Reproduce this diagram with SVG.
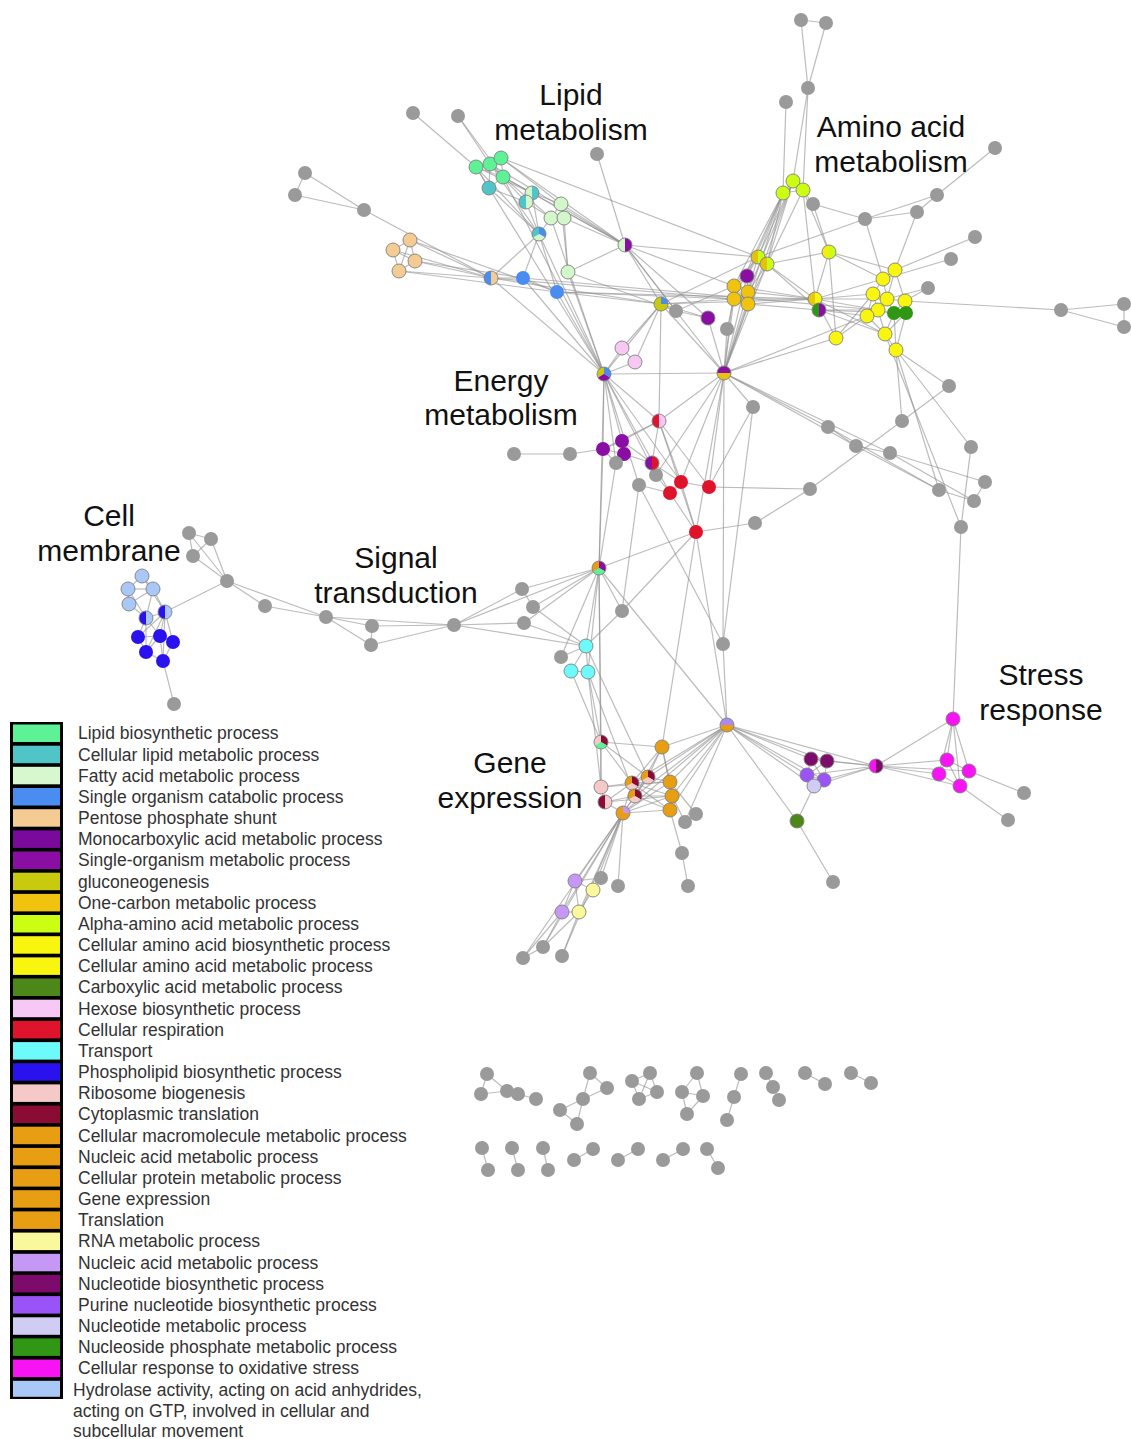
<svg xmlns="http://www.w3.org/2000/svg" width="1131" height="1439" viewBox="0 0 1131 1439">
<defs>
<style>
.e line{stroke:#8f8f8f;stroke-width:1.2;stroke-opacity:.6}
.g{fill:#9a9a9a}
.k{stroke:#7f7f7f;stroke-width:.9}
.lab{font-family:"Liberation Sans",Arial,sans-serif;font-size:30px;fill:#111;text-anchor:middle}
.leg{font-family:"Liberation Sans",Arial,sans-serif;font-size:17.5px;fill:#333}
</style>
<path id="hl" d="M0,-7A7,7 0 0 0 0,7Z"/>
<path id="hr" d="M0,-7A7,7 0 0 1 0,7Z"/>
<path id="ht" d="M-7,0A7,7 0 0 1 7,0Z"/>
<path id="hb" d="M-7,0A7,7 0 0 0 7,0Z"/>
<path id="s1" d="M0,0L0,-7A7,7 0 0 1 6.06,3.5Z"/>
<path id="s2" d="M0,0L6.06,3.5A7,7 0 0 1 -6.06,3.5Z"/>
<path id="s3" d="M0,0L-6.06,3.5A7,7 0 0 1 0,-7Z"/>
<path id="q1" d="M0,0L0,-7A7,7 0 0 1 7,0Z"/>
<path id="q3" d="M0,0L7,0A7,7 0 1 1 0,-7Z"/>
<circle id="ring" r="7" fill="none" stroke="#7f7f7f" stroke-width="0.9"/>
</defs>
<rect width="1131" height="1439" fill="#fff"/>

<g id="connectors" class="e">
<line x1="801" y1="20" x2="826" y2="23"/><line x1="801" y1="20" x2="808" y2="88"/><line x1="826" y1="23" x2="808" y2="88"/>
<line x1="808" y1="88" x2="793" y2="181"/><line x1="808" y1="88" x2="803" y2="190"/><line x1="786" y1="102" x2="783" y2="193"/>
<line x1="783" y1="193" x2="793" y2="181"/><line x1="793" y1="181" x2="803" y2="190"/><line x1="783" y1="193" x2="803" y2="190"/>
<line x1="803" y1="190" x2="813" y2="204"/><line x1="813" y1="204" x2="865" y2="219"/><line x1="865" y1="219" x2="917" y2="212"/>
<line x1="865" y1="219" x2="937" y2="195"/><line x1="917" y1="212" x2="937" y2="195"/><line x1="937" y1="195" x2="995" y2="148"/>
<line x1="865" y1="219" x2="883" y2="279"/><line x1="917" y1="212" x2="895" y2="270"/><line x1="975" y1="237" x2="895" y2="270"/>
<line x1="951" y1="259" x2="883" y2="279"/><line x1="928" y1="288" x2="905" y2="301"/><line x1="928" y1="288" x2="887" y2="299"/>
<line x1="905" y1="301" x2="1061" y2="310"/><line x1="1061" y1="310" x2="1124" y2="304"/><line x1="1061" y1="310" x2="1124" y2="327"/><line x1="1124" y1="304" x2="1124" y2="327"/>
<line x1="865" y1="219" x2="758" y2="257"/><line x1="803" y1="190" x2="829" y2="252"/><line x1="813" y1="204" x2="829" y2="252"/>
<line x1="783" y1="193" x2="758" y2="257"/><line x1="783" y1="193" x2="767" y2="264"/><line x1="793" y1="181" x2="767" y2="264"/>
<line x1="783" y1="193" x2="734" y2="286"/><line x1="783" y1="193" x2="734" y2="299"/><line x1="793" y1="181" x2="748" y2="292"/>
<line x1="803" y1="190" x2="748" y2="304"/><line x1="783" y1="193" x2="747" y2="276"/><line x1="783" y1="193" x2="724" y2="373"/>
<line x1="793" y1="181" x2="724" y2="373"/><line x1="803" y1="190" x2="815" y2="299"/><line x1="793" y1="181" x2="758" y2="257"/>
<line x1="758" y1="257" x2="767" y2="264"/><line x1="758" y1="257" x2="734" y2="286"/><line x1="767" y1="264" x2="748" y2="292"/>
<line x1="758" y1="257" x2="747" y2="276"/><line x1="767" y1="264" x2="829" y2="252"/><line x1="767" y1="264" x2="815" y2="299"/>
<line x1="767" y1="264" x2="819" y2="310"/><line x1="829" y1="252" x2="815" y2="299"/><line x1="829" y1="252" x2="836" y2="338"/>
<line x1="829" y1="252" x2="883" y2="279"/><line x1="829" y1="252" x2="895" y2="270"/>
<line x1="734" y1="286" x2="748" y2="292"/><line x1="734" y1="286" x2="734" y2="299"/><line x1="748" y1="292" x2="748" y2="304"/>
<line x1="734" y1="299" x2="748" y2="304"/><line x1="734" y1="286" x2="748" y2="304"/><line x1="748" y1="292" x2="734" y2="299"/>
<line x1="747" y1="276" x2="734" y2="286"/><line x1="747" y1="276" x2="748" y2="292"/>
<line x1="748" y1="292" x2="815" y2="299"/><line x1="748" y1="304" x2="815" y2="299"/><line x1="748" y1="304" x2="819" y2="310"/>
<line x1="734" y1="299" x2="815" y2="299"/><line x1="734" y1="286" x2="815" y2="299"/>
<line x1="734" y1="299" x2="724" y2="373"/><line x1="748" y1="304" x2="724" y2="373"/><line x1="747" y1="276" x2="724" y2="373"/>
<line x1="758" y1="257" x2="724" y2="373"/><line x1="767" y1="264" x2="724" y2="373"/><line x1="734" y1="286" x2="724" y2="373"/>
<line x1="815" y1="299" x2="819" y2="310"/><line x1="815" y1="299" x2="873" y2="294"/><line x1="815" y1="299" x2="883" y2="279"/>
<line x1="815" y1="299" x2="878" y2="310"/><line x1="819" y1="310" x2="867" y2="316"/><line x1="819" y1="310" x2="878" y2="310"/>
<line x1="815" y1="299" x2="887" y2="299"/><line x1="819" y1="310" x2="894" y2="313"/><line x1="819" y1="310" x2="885" y2="334"/>
<line x1="895" y1="270" x2="883" y2="279"/><line x1="883" y1="279" x2="873" y2="294"/><line x1="883" y1="279" x2="887" y2="299"/>
<line x1="873" y1="294" x2="887" y2="299"/><line x1="895" y1="270" x2="887" y2="299"/><line x1="887" y1="299" x2="905" y2="301"/>
<line x1="873" y1="294" x2="878" y2="310"/><line x1="878" y1="310" x2="867" y2="316"/><line x1="878" y1="310" x2="887" y2="299"/>
<line x1="887" y1="299" x2="894" y2="313"/><line x1="894" y1="313" x2="906" y2="313"/><line x1="905" y1="301" x2="906" y2="313"/>
<line x1="905" y1="301" x2="894" y2="313"/><line x1="878" y1="310" x2="894" y2="313"/><line x1="867" y1="316" x2="885" y2="334"/>
<line x1="878" y1="310" x2="885" y2="334"/><line x1="894" y1="313" x2="885" y2="334"/><line x1="885" y1="334" x2="896" y2="350"/>
<line x1="894" y1="313" x2="896" y2="350"/><line x1="906" y1="313" x2="896" y2="350"/><line x1="906" y1="313" x2="885" y2="334"/>
<line x1="873" y1="294" x2="867" y2="316"/><line x1="895" y1="270" x2="905" y2="301"/>
<line x1="836" y1="338" x2="867" y2="316"/><line x1="836" y1="338" x2="873" y2="294"/><line x1="836" y1="338" x2="815" y2="299"/>
<line x1="836" y1="338" x2="724" y2="373"/><line x1="867" y1="316" x2="724" y2="373"/><line x1="885" y1="334" x2="815" y2="299"/>
<line x1="661" y1="304" x2="676" y2="311"/><line x1="661" y1="304" x2="734" y2="299"/><line x1="661" y1="304" x2="758" y2="257"/>
<line x1="661" y1="304" x2="815" y2="299"/><line x1="661" y1="304" x2="724" y2="373"/><line x1="661" y1="304" x2="659" y2="421"/>
<line x1="661" y1="304" x2="604" y2="374"/><line x1="661" y1="304" x2="622" y2="348"/><line x1="661" y1="304" x2="635" y2="362"/>
<line x1="661" y1="304" x2="708" y2="318"/><line x1="708" y1="318" x2="724" y2="373"/><line x1="676" y1="311" x2="708" y2="318"/>
<line x1="727" y1="329" x2="724" y2="373"/><line x1="727" y1="329" x2="734" y2="299"/><line x1="676" y1="311" x2="734" y2="286"/>
<line x1="724" y1="373" x2="753" y2="407"/><line x1="724" y1="373" x2="604" y2="374"/><line x1="724" y1="373" x2="659" y2="421"/>
<line x1="724" y1="373" x2="709" y2="487"/><line x1="724" y1="373" x2="696" y2="532"/><line x1="724" y1="373" x2="656" y2="475"/>
<line x1="724" y1="373" x2="828" y2="427"/><line x1="724" y1="373" x2="856" y2="446"/><line x1="724" y1="373" x2="890" y2="453"/>
<line x1="724" y1="373" x2="723" y2="644"/><line x1="724" y1="373" x2="681" y2="482"/>
<line x1="413" y1="113" x2="476" y2="167"/><line x1="458" y1="116" x2="490" y2="164"/><line x1="458" y1="116" x2="503" y2="177"/>
<line x1="597" y1="154" x2="625" y2="245"/><line x1="305" y1="173" x2="295" y2="195"/><line x1="305" y1="173" x2="364" y2="210"/>
<line x1="295" y1="195" x2="364" y2="210"/><line x1="364" y1="210" x2="491" y2="278"/>
<line x1="476" y1="167" x2="490" y2="164"/><line x1="490" y1="164" x2="501" y2="158"/><line x1="476" y1="167" x2="489" y2="188"/>
<line x1="490" y1="164" x2="503" y2="177"/><line x1="501" y1="158" x2="503" y2="177"/><line x1="490" y1="164" x2="489" y2="188"/>
<line x1="476" y1="167" x2="503" y2="177"/><line x1="489" y1="188" x2="503" y2="177"/>
<line x1="476" y1="167" x2="532" y2="193"/><line x1="490" y1="164" x2="526" y2="202"/><line x1="503" y1="177" x2="532" y2="193"/>
<line x1="489" y1="188" x2="526" y2="202"/><line x1="501" y1="158" x2="561" y2="204"/><line x1="503" y1="177" x2="551" y2="218"/>
<line x1="476" y1="167" x2="539" y2="234"/><line x1="490" y1="164" x2="539" y2="234"/><line x1="489" y1="188" x2="539" y2="234"/>
<line x1="503" y1="177" x2="625" y2="245"/><line x1="501" y1="158" x2="625" y2="245"/><line x1="490" y1="164" x2="625" y2="245"/>
<line x1="501" y1="158" x2="758" y2="257"/><line x1="503" y1="177" x2="604" y2="374"/><line x1="476" y1="167" x2="604" y2="374"/>
<line x1="532" y1="193" x2="526" y2="202"/><line x1="532" y1="193" x2="561" y2="204"/><line x1="526" y1="202" x2="551" y2="218"/>
<line x1="532" y1="193" x2="625" y2="245"/><line x1="526" y1="202" x2="539" y2="234"/><line x1="532" y1="193" x2="539" y2="234"/>
<line x1="561" y1="204" x2="551" y2="218"/><line x1="561" y1="204" x2="564" y2="218"/><line x1="551" y1="218" x2="564" y2="218"/>
<line x1="564" y1="218" x2="568" y2="272"/><line x1="561" y1="204" x2="568" y2="272"/><line x1="551" y1="218" x2="539" y2="234"/>
<line x1="564" y1="218" x2="625" y2="245"/><line x1="561" y1="204" x2="625" y2="245"/><line x1="551" y1="218" x2="604" y2="374"/>
<line x1="539" y1="234" x2="491" y2="278"/><line x1="539" y1="234" x2="523" y2="278"/><line x1="539" y1="234" x2="604" y2="374"/>
<line x1="539" y1="234" x2="557" y2="292"/><line x1="568" y1="272" x2="625" y2="245"/><line x1="568" y1="272" x2="604" y2="374"/>
<line x1="568" y1="272" x2="676" y2="311"/><line x1="625" y1="245" x2="661" y2="304"/><line x1="625" y1="245" x2="724" y2="373"/>
<line x1="625" y1="245" x2="758" y2="257"/><line x1="625" y1="245" x2="734" y2="286"/><line x1="625" y1="245" x2="708" y2="318"/>
<line x1="625" y1="245" x2="676" y2="311"/>
<line x1="410" y1="240" x2="393" y2="250"/><line x1="410" y1="240" x2="415" y2="261"/><line x1="393" y1="250" x2="399" y2="271"/>
<line x1="415" y1="261" x2="399" y2="271"/><line x1="393" y1="250" x2="415" y2="261"/><line x1="410" y1="240" x2="399" y2="271"/>
<line x1="410" y1="240" x2="491" y2="278"/><line x1="393" y1="250" x2="491" y2="278"/><line x1="415" y1="261" x2="491" y2="278"/>
<line x1="399" y1="271" x2="491" y2="278"/><line x1="415" y1="261" x2="523" y2="278"/><line x1="410" y1="240" x2="557" y2="292"/>
<line x1="399" y1="271" x2="557" y2="292"/>
<line x1="491" y1="278" x2="523" y2="278"/><line x1="491" y1="278" x2="604" y2="374"/><line x1="523" y1="278" x2="557" y2="292"/>
<line x1="523" y1="278" x2="604" y2="374"/><line x1="557" y1="292" x2="661" y2="304"/><line x1="557" y1="292" x2="734" y2="299"/>
<line x1="557" y1="292" x2="815" y2="299"/><line x1="523" y1="278" x2="878" y2="310"/><line x1="491" y1="278" x2="661" y2="304"/>
<line x1="557" y1="292" x2="604" y2="374"/><line x1="491" y1="278" x2="734" y2="299"/>
<line x1="604" y1="374" x2="622" y2="348"/><line x1="604" y1="374" x2="635" y2="362"/><line x1="622" y1="348" x2="635" y2="362"/>
<line x1="604" y1="374" x2="659" y2="421"/><line x1="604" y1="374" x2="603" y2="449"/><line x1="604" y1="374" x2="616" y2="463"/>
<line x1="604" y1="374" x2="639" y2="485"/><line x1="604" y1="374" x2="681" y2="482"/><line x1="604" y1="374" x2="656" y2="475"/>
<line x1="604" y1="374" x2="599" y2="568"/><line x1="604" y1="374" x2="622" y2="441"/><line x1="604" y1="374" x2="670" y2="493"/>
<line x1="659" y1="421" x2="603" y2="449"/><line x1="659" y1="421" x2="622" y2="441"/><line x1="659" y1="421" x2="681" y2="482"/>
<line x1="659" y1="421" x2="709" y2="487"/><line x1="659" y1="421" x2="696" y2="532"/><line x1="659" y1="421" x2="652" y2="463"/>
<line x1="514" y1="454" x2="570" y2="454"/><line x1="570" y1="454" x2="603" y2="449"/><line x1="603" y1="449" x2="622" y2="441"/>
<line x1="603" y1="449" x2="624" y2="454"/><line x1="622" y1="441" x2="624" y2="454"/><line x1="622" y1="441" x2="652" y2="463"/>
<line x1="624" y1="454" x2="652" y2="463"/><line x1="603" y1="449" x2="616" y2="463"/><line x1="624" y1="454" x2="616" y2="463"/>
<line x1="652" y1="463" x2="681" y2="482"/><line x1="652" y1="463" x2="656" y2="475"/><line x1="681" y1="482" x2="670" y2="493"/>
<line x1="681" y1="482" x2="709" y2="487"/><line x1="670" y1="493" x2="696" y2="532"/><line x1="681" y1="482" x2="696" y2="532"/>
<line x1="639" y1="485" x2="670" y2="493"/><line x1="656" y1="475" x2="670" y2="493"/>
<line x1="709" y1="487" x2="810" y2="489"/><line x1="753" y1="407" x2="709" y2="487"/><line x1="810" y1="489" x2="755" y2="523"/>
<line x1="755" y1="523" x2="696" y2="532"/><line x1="810" y1="489" x2="902" y2="421"/><line x1="902" y1="421" x2="949" y2="386"/>
<line x1="949" y1="386" x2="896" y2="350"/><line x1="896" y1="350" x2="902" y2="421"/>
<line x1="828" y1="427" x2="856" y2="446"/><line x1="856" y1="446" x2="890" y2="453"/><line x1="856" y1="446" x2="939" y2="490"/>
<line x1="890" y1="453" x2="974" y2="501"/><line x1="890" y1="453" x2="985" y2="482"/><line x1="974" y1="501" x2="985" y2="482"/>
<line x1="939" y1="490" x2="974" y2="501"/><line x1="828" y1="427" x2="939" y2="490"/>
<line x1="896" y1="350" x2="971" y2="447"/><line x1="896" y1="350" x2="939" y2="490"/><line x1="971" y1="447" x2="961" y2="527"/>
<line x1="885" y1="334" x2="961" y2="527"/><line x1="961" y1="527" x2="953" y2="719"/>
<line x1="603" y1="449" x2="599" y2="568"/><line x1="616" y1="463" x2="599" y2="568"/><line x1="639" y1="485" x2="622" y2="611"/>
<line x1="639" y1="485" x2="723" y2="644"/><line x1="696" y1="532" x2="622" y2="611"/><line x1="622" y1="611" x2="586" y2="646"/>
<line x1="696" y1="532" x2="662" y2="747"/><line x1="696" y1="532" x2="727" y2="725"/><line x1="696" y1="532" x2="599" y2="568"/>
<line x1="753" y1="407" x2="723" y2="644"/>
<line x1="189" y1="533" x2="211" y2="539"/><line x1="189" y1="533" x2="193" y2="556"/><line x1="211" y1="539" x2="193" y2="556"/>
<line x1="189" y1="533" x2="227" y2="581"/><line x1="211" y1="539" x2="227" y2="581"/><line x1="193" y1="556" x2="227" y2="581"/>
<line x1="227" y1="581" x2="165" y2="612"/><line x1="227" y1="581" x2="265" y2="606"/><line x1="227" y1="581" x2="326" y2="617"/>
<line x1="265" y1="606" x2="326" y2="617"/><line x1="326" y1="617" x2="372" y2="626"/><line x1="326" y1="617" x2="371" y2="645"/>
<line x1="372" y1="626" x2="371" y2="645"/><line x1="326" y1="617" x2="454" y2="625"/><line x1="372" y1="626" x2="454" y2="625"/>
<line x1="371" y1="645" x2="454" y2="625"/>
<line x1="454" y1="625" x2="522" y2="589"/><line x1="454" y1="625" x2="524" y2="623"/><line x1="454" y1="625" x2="586" y2="646"/>
<line x1="454" y1="625" x2="599" y2="568"/><line x1="522" y1="589" x2="599" y2="568"/><line x1="533" y1="607" x2="599" y2="568"/>
<line x1="524" y1="623" x2="599" y2="568"/><line x1="522" y1="589" x2="533" y2="607"/><line x1="533" y1="607" x2="586" y2="646"/>
<line x1="524" y1="623" x2="586" y2="646"/><line x1="561" y1="657" x2="586" y2="646"/><line x1="561" y1="657" x2="599" y2="568"/>
<line x1="599" y1="568" x2="586" y2="646"/><line x1="599" y1="568" x2="588" y2="672"/><line x1="599" y1="568" x2="601" y2="742"/>
<line x1="599" y1="568" x2="727" y2="725"/><line x1="599" y1="568" x2="622" y2="611"/><line x1="599" y1="568" x2="601" y2="787"/>
<line x1="142" y1="576" x2="128" y2="589"/><line x1="142" y1="576" x2="153" y2="589"/><line x1="128" y1="589" x2="153" y2="589"/>
<line x1="128" y1="589" x2="129" y2="604"/><line x1="153" y1="589" x2="129" y2="604"/><line x1="153" y1="589" x2="165" y2="612"/>
<line x1="129" y1="604" x2="146" y2="618"/><line x1="165" y1="612" x2="146" y2="618"/><line x1="142" y1="576" x2="165" y2="612"/>
<line x1="128" y1="589" x2="146" y2="618"/><line x1="153" y1="589" x2="146" y2="618"/>
<line x1="165" y1="612" x2="138" y2="637"/><line x1="165" y1="612" x2="160" y2="636"/><line x1="165" y1="612" x2="173" y2="642"/>
<line x1="165" y1="612" x2="146" y2="652"/><line x1="165" y1="612" x2="163" y2="661"/><line x1="146" y1="618" x2="138" y2="637"/>
<line x1="146" y1="618" x2="160" y2="636"/><line x1="146" y1="618" x2="146" y2="652"/><line x1="138" y1="637" x2="160" y2="636"/>
<line x1="160" y1="636" x2="173" y2="642"/><line x1="138" y1="637" x2="146" y2="652"/><line x1="146" y1="652" x2="163" y2="661"/>
<line x1="160" y1="636" x2="163" y2="661"/><line x1="173" y1="642" x2="163" y2="661"/><line x1="160" y1="636" x2="146" y2="652"/>
<line x1="163" y1="661" x2="174" y2="704"/>
<line x1="586" y1="646" x2="571" y2="671"/><line x1="586" y1="646" x2="588" y2="672"/><line x1="571" y1="671" x2="588" y2="672"/>
<line x1="571" y1="671" x2="601" y2="742"/><line x1="588" y1="672" x2="601" y2="742"/><line x1="588" y1="672" x2="635" y2="796"/>
<line x1="586" y1="646" x2="648" y2="777"/><line x1="588" y1="672" x2="601" y2="787"/>
<line x1="601" y1="742" x2="601" y2="787"/><line x1="601" y1="742" x2="632" y2="783"/><line x1="601" y1="742" x2="648" y2="777"/>
<line x1="601" y1="742" x2="662" y2="747"/><line x1="601" y1="787" x2="605" y2="802"/><line x1="601" y1="787" x2="632" y2="783"/>
<line x1="605" y1="802" x2="632" y2="783"/><line x1="605" y1="802" x2="635" y2="796"/><line x1="605" y1="802" x2="623" y2="813"/>
<line x1="601" y1="787" x2="670" y2="782"/><line x1="605" y1="802" x2="672" y2="796"/>
<line x1="662" y1="747" x2="648" y2="777"/><line x1="662" y1="747" x2="670" y2="782"/><line x1="662" y1="747" x2="672" y2="796"/>
<line x1="662" y1="747" x2="632" y2="783"/><line x1="662" y1="747" x2="727" y2="725"/><line x1="662" y1="747" x2="635" y2="796"/>
<line x1="632" y1="783" x2="648" y2="777"/><line x1="632" y1="783" x2="635" y2="796"/><line x1="648" y1="777" x2="635" y2="796"/>
<line x1="632" y1="783" x2="670" y2="782"/><line x1="632" y1="783" x2="672" y2="796"/><line x1="648" y1="777" x2="670" y2="782"/>
<line x1="635" y1="796" x2="672" y2="796"/><line x1="635" y1="796" x2="670" y2="810"/><line x1="632" y1="783" x2="670" y2="810"/>
<line x1="670" y1="782" x2="672" y2="796"/><line x1="672" y1="796" x2="670" y2="810"/>
<line x1="623" y1="813" x2="632" y2="783"/><line x1="623" y1="813" x2="635" y2="796"/><line x1="623" y1="813" x2="670" y2="782"/>
<line x1="623" y1="813" x2="672" y2="796"/><line x1="623" y1="813" x2="670" y2="810"/><line x1="623" y1="813" x2="648" y2="777"/>
<line x1="727" y1="725" x2="670" y2="782"/><line x1="727" y1="725" x2="672" y2="796"/><line x1="727" y1="725" x2="670" y2="810"/>
<line x1="727" y1="725" x2="632" y2="783"/><line x1="727" y1="725" x2="648" y2="777"/><line x1="727" y1="725" x2="635" y2="796"/>
<line x1="727" y1="725" x2="623" y2="813"/><line x1="727" y1="725" x2="685" y2="822"/><line x1="727" y1="725" x2="723" y2="644"/>
<line x1="670" y1="782" x2="696" y2="814"/><line x1="672" y1="796" x2="685" y2="822"/><line x1="670" y1="810" x2="682" y2="853"/>
<line x1="682" y1="853" x2="688" y2="886"/>
<line x1="623" y1="813" x2="575" y2="881"/><line x1="623" y1="813" x2="593" y2="890"/><line x1="623" y1="813" x2="562" y2="912"/>
<line x1="623" y1="813" x2="579" y2="912"/><line x1="623" y1="813" x2="601" y2="878"/><line x1="623" y1="813" x2="618" y2="886"/>
<line x1="623" y1="813" x2="543" y2="947"/><line x1="623" y1="813" x2="523" y2="958"/><line x1="623" y1="813" x2="562" y2="956"/>
<line x1="575" y1="881" x2="593" y2="890"/><line x1="575" y1="881" x2="562" y2="912"/><line x1="593" y1="890" x2="579" y2="912"/>
<line x1="562" y1="912" x2="579" y2="912"/><line x1="575" y1="881" x2="579" y2="912"/><line x1="562" y1="912" x2="543" y2="947"/>
<line x1="562" y1="912" x2="523" y2="958"/><line x1="579" y1="912" x2="562" y2="956"/><line x1="579" y1="912" x2="543" y2="947"/>
<line x1="543" y1="947" x2="523" y2="958"/><line x1="575" y1="881" x2="601" y2="878"/>
<line x1="727" y1="725" x2="811" y2="759"/><line x1="727" y1="725" x2="827" y2="761"/><line x1="727" y1="725" x2="807" y2="775"/>
<line x1="727" y1="725" x2="824" y2="780"/><line x1="727" y1="725" x2="814" y2="786"/><line x1="727" y1="725" x2="876" y2="766"/>
<line x1="727" y1="725" x2="797" y2="821"/>
<line x1="811" y1="759" x2="827" y2="761"/><line x1="811" y1="759" x2="807" y2="775"/><line x1="827" y1="761" x2="824" y2="780"/>
<line x1="807" y1="775" x2="824" y2="780"/><line x1="807" y1="775" x2="814" y2="786"/><line x1="824" y1="780" x2="814" y2="786"/>
<line x1="811" y1="759" x2="824" y2="780"/><line x1="827" y1="761" x2="807" y2="775"/>
<line x1="876" y1="766" x2="811" y2="759"/><line x1="876" y1="766" x2="827" y2="761"/><line x1="876" y1="766" x2="807" y2="775"/>
<line x1="876" y1="766" x2="824" y2="780"/><line x1="876" y1="766" x2="814" y2="786"/>
<line x1="814" y1="786" x2="797" y2="821"/><line x1="797" y1="821" x2="833" y2="882"/>
<line x1="876" y1="766" x2="953" y2="719"/><line x1="876" y1="766" x2="947" y2="760"/><line x1="876" y1="766" x2="969" y2="771"/>
<line x1="876" y1="766" x2="939" y2="774"/><line x1="876" y1="766" x2="960" y2="786"/>
<line x1="953" y1="719" x2="947" y2="760"/><line x1="953" y1="719" x2="969" y2="771"/><line x1="953" y1="719" x2="939" y2="774"/>
<line x1="953" y1="719" x2="960" y2="786"/><line x1="947" y1="760" x2="969" y2="771"/><line x1="947" y1="760" x2="939" y2="774"/>
<line x1="939" y1="774" x2="960" y2="786"/><line x1="969" y1="771" x2="960" y2="786"/><line x1="947" y1="760" x2="960" y2="786"/>
<line x1="969" y1="771" x2="1024" y2="793"/><line x1="960" y1="786" x2="1008" y2="820"/>
<line x1="487" y1="1074" x2="481" y2="1094"/><line x1="487" y1="1074" x2="507" y2="1091"/><line x1="481" y1="1094" x2="507" y2="1091"/>
<line x1="507" y1="1091" x2="518" y2="1094"/><line x1="518" y1="1094" x2="536" y2="1099"/>
<line x1="590" y1="1073" x2="607" y2="1088"/><line x1="590" y1="1073" x2="583" y2="1099"/><line x1="607" y1="1088" x2="583" y2="1099"/>
<line x1="583" y1="1099" x2="560" y2="1110"/><line x1="583" y1="1099" x2="577" y2="1124"/><line x1="560" y1="1110" x2="577" y2="1124"/>
<line x1="650" y1="1073" x2="632" y2="1081"/><line x1="650" y1="1073" x2="657" y2="1092"/><line x1="650" y1="1073" x2="639" y2="1099"/>
<line x1="632" y1="1081" x2="657" y2="1092"/><line x1="632" y1="1081" x2="639" y2="1099"/><line x1="657" y1="1092" x2="639" y2="1099"/>
<line x1="697" y1="1073" x2="682" y2="1092"/><line x1="697" y1="1073" x2="703" y2="1096"/><line x1="682" y1="1092" x2="703" y2="1096"/>
<line x1="682" y1="1092" x2="687" y2="1114"/><line x1="703" y1="1096" x2="687" y2="1114"/>
<line x1="741" y1="1074" x2="734" y2="1097"/><line x1="734" y1="1097" x2="727" y2="1120"/>
<line x1="766" y1="1073" x2="773" y2="1087"/><line x1="773" y1="1087" x2="779" y2="1100"/>
<line x1="805" y1="1073" x2="825" y2="1084"/><line x1="851" y1="1073" x2="871" y2="1083"/>
<line x1="482" y1="1148" x2="488" y2="1170"/><line x1="512" y1="1148" x2="518" y2="1170"/><line x1="543" y1="1148" x2="548" y2="1170"/>
<line x1="593" y1="1149" x2="574" y2="1160"/><line x1="638" y1="1149" x2="618" y2="1160"/><line x1="683" y1="1149" x2="663" y2="1160"/>
<line x1="707" y1="1149" x2="718" y2="1168"/>
</g>

<g id="nodes">
<g id="n-t1"><circle class="g" cx="801" cy="20" r="7"/></g>
<g id="n-t2"><circle class="g" cx="826" cy="23" r="7"/></g>
<g id="n-t3"><circle class="g" cx="808" cy="88" r="7"/></g>
<g id="n-t4"><circle class="g" cx="786" cy="102" r="7"/></g>
<g id="n-ga"><circle class="g" cx="813" cy="204" r="7"/></g>
<g id="n-gb"><circle class="g" cx="865" cy="219" r="7"/></g>
<g id="n-gc"><circle class="g" cx="917" cy="212" r="7"/></g>
<g id="n-gd"><circle class="g" cx="937" cy="195" r="7"/></g>
<g id="n-ge"><circle class="g" cx="995" cy="148" r="7"/></g>
<g id="n-gf"><circle class="g" cx="975" cy="237" r="7"/></g>
<g id="n-gg"><circle class="g" cx="951" cy="259" r="7"/></g>
<g id="n-gh"><circle class="g" cx="928" cy="288" r="7"/></g>
<g id="n-gi"><circle class="g" cx="1061" cy="310" r="7"/></g>
<g id="n-gj"><circle class="g" cx="1124" cy="304" r="7"/></g>
<g id="n-gk"><circle class="g" cx="1124" cy="327" r="7"/></g>
<g id="n-gl"><circle class="g" cx="949" cy="386" r="7"/></g>
<g id="n-yg1"><circle class="k" cx="783" cy="193" r="7" fill="#CCFE14"/></g>
<g id="n-yg2"><circle class="k" cx="793" cy="181" r="7" fill="#CCFE14"/></g>
<g id="n-yg3"><circle class="k" cx="803" cy="190" r="7" fill="#CCFE14"/></g>
<g id="n-gm"><circle class="g" cx="676" cy="311" r="7"/></g>
<g id="n-gn"><circle class="g" cx="727" cy="329" r="7"/></g>
<g id="n-go"><circle class="g" cx="753" cy="407" r="7"/></g>
<g id="n-ao1"><circle class="k" cx="734" cy="286" r="7" fill="#F0C30E"/></g>
<g id="n-ao2"><circle class="k" cx="748" cy="292" r="7" fill="#F0C30E"/></g>
<g id="n-ao3"><circle class="k" cx="734" cy="299" r="7" fill="#F0C30E"/></g>
<g id="n-ao4"><circle class="k" cx="748" cy="304" r="7" fill="#F0C30E"/></g>
<g id="n-ap1"><circle class="k" cx="747" cy="276" r="7" fill="#8A0EA3"/></g>
<g id="n-ap2"><circle class="k" cx="708" cy="318" r="7" fill="#8A0EA3"/></g>
<g id="n-ax1" transform="translate(758,257)"><use href="#hl" fill="#E2C20C"/><use href="#hr" fill="#CCFE14"/><use href="#ring"/></g>
<g id="n-ax2" transform="translate(767,264)"><use href="#hl" fill="#E2C20C"/><use href="#hr" fill="#CCFE14"/><use href="#ring"/></g>
<g id="n-ax3" transform="translate(829,252)"><use href="#hl" fill="#F3EE0E"/><use href="#hr" fill="#CCFE14"/><use href="#ring"/></g>
<g id="n-ax4" transform="translate(815,299)"><use href="#hl" fill="#E8C80C"/><use href="#hr" fill="#F8F60E"/><use href="#ring"/></g>
<g id="n-ax5" transform="translate(819,310)"><use href="#hl" fill="#2F9713"/><use href="#hr" fill="#8A0EA3"/><use href="#ring"/></g>
<g id="n-ay1"><circle class="k" cx="836" cy="338" r="7" fill="#F8F60E"/></g>
<g id="n-y1"><circle class="k" cx="895" cy="270" r="7" fill="#F8F60E"/></g>
<g id="n-y2"><circle class="k" cx="883" cy="279" r="7" fill="#F8F60E"/></g>
<g id="n-y3"><circle class="k" cx="873" cy="294" r="7" fill="#F8F60E"/></g>
<g id="n-y4"><circle class="k" cx="887" cy="299" r="7" fill="#F8F60E"/></g>
<g id="n-y5"><circle class="k" cx="905" cy="301" r="7" fill="#F8F60E"/></g>
<g id="n-y6"><circle class="k" cx="878" cy="310" r="7" fill="#F8F60E"/></g>
<g id="n-y7"><circle class="k" cx="867" cy="316" r="7" fill="#F8F60E"/></g>
<g id="n-ag1"><circle cx="894" cy="313" r="7" fill="#2F9713"/></g>
<g id="n-ag2"><circle cx="906" cy="313" r="7" fill="#2F9713"/></g>
<g id="n-y8"><circle class="k" cx="885" cy="334" r="7" fill="#F8F60E"/></g>
<g id="n-y9"><circle class="k" cx="896" cy="350" r="7" fill="#F8F60E"/></g>
<g id="n-mx1" transform="translate(661,304)"><use href="#q3" fill="#C9C90E"/><use href="#q1" fill="#4A8DF1"/><use href="#ring"/></g>
<g id="n-mx2" transform="translate(724,373)"><use href="#ht" fill="#8A0EA3"/><use href="#hb" fill="#E8C00E"/><use href="#ring"/></g>

<g id="n-l1"><circle class="g" cx="413" cy="113" r="7"/></g>
<g id="n-l2"><circle class="g" cx="458" cy="116" r="7"/></g>
<g id="n-l3"><circle class="g" cx="597" cy="154" r="7"/></g>
<g id="n-l4"><circle class="g" cx="305" cy="173" r="7"/></g>
<g id="n-l5"><circle class="g" cx="295" cy="195" r="7"/></g>
<g id="n-l6"><circle class="g" cx="364" cy="210" r="7"/></g>
<g id="n-lg1"><circle class="k" cx="476" cy="167" r="7" fill="#5DF296"/></g>
<g id="n-lg2"><circle class="k" cx="490" cy="164" r="7" fill="#5DF296"/></g>
<g id="n-lg3"><circle class="k" cx="501" cy="158" r="7" fill="#5DF296"/></g>
<g id="n-lg4"><circle class="k" cx="503" cy="177" r="7" fill="#5DF296"/></g>
<g id="n-lt"><circle class="k" cx="489" cy="188" r="7" fill="#4FC5C7"/></g>
<g id="n-lh1" transform="translate(532,193)"><use href="#hl" fill="#D3F6CB"/><use href="#hr" fill="#4FC5C7"/><use href="#ring"/></g>
<g id="n-lh2" transform="translate(526,202)"><use href="#hl" fill="#4FC5C7"/><use href="#hr" fill="#D3F6CB"/><use href="#ring"/></g>
<g id="n-lf1"><circle class="k" cx="561" cy="204" r="7" fill="#D3F6CB"/></g>
<g id="n-lf2"><circle class="k" cx="551" cy="218" r="7" fill="#D3F6CB"/></g>
<g id="n-lf3"><circle class="k" cx="564" cy="218" r="7" fill="#D3F6CB"/></g>
<g id="n-lm" transform="translate(539,234)"><use href="#s1" fill="#4A8DF1"/><use href="#s2" fill="#D3F6CB"/><use href="#s3" fill="#4FC5C7"/><use href="#ring"/></g>
<g id="n-lf4"><circle class="k" cx="568" cy="272" r="7" fill="#D3F6CB"/></g>
<g id="n-lp" transform="translate(625,245)"><use href="#hl" fill="#D3F6CB"/><use href="#hr" fill="#8A0EA3"/><use href="#ring"/></g>
<g id="n-tn1"><circle class="k" cx="410" cy="240" r="7" fill="#F3CB93"/></g>
<g id="n-tn2"><circle class="k" cx="393" cy="250" r="7" fill="#F3CB93"/></g>
<g id="n-tn3"><circle class="k" cx="415" cy="261" r="7" fill="#F3CB93"/></g>
<g id="n-tn4"><circle class="k" cx="399" cy="271" r="7" fill="#F3CB93"/></g>
<g id="n-bt" transform="translate(491,278)"><use href="#hl" fill="#4A8DF1"/><use href="#hr" fill="#F3CB93"/><use href="#ring"/></g>
<g id="n-bl1"><circle cx="523" cy="278" r="7" fill="#4A8DF1"/></g>
<g id="n-bl2"><circle cx="557" cy="292" r="7" fill="#4A8DF1"/></g>

<g id="n-pk1"><circle class="k" cx="622" cy="348" r="7" fill="#F6C8F3"/></g>
<g id="n-pk2"><circle class="k" cx="635" cy="362" r="7" fill="#F6C8F3"/></g>
<g id="n-mx3" transform="translate(604,374)"><use href="#s3" fill="#C9C90E"/><use href="#s1" fill="#4A8DF1"/><use href="#s2" fill="#8A0EA3"/><use href="#ring"/></g>
<g id="n-rp" transform="translate(659,421)"><use href="#hl" fill="#E0132C"/><use href="#hr" fill="#F6C8F3"/><use href="#ring"/></g>
<g id="n-ep1"><circle cx="603" cy="449" r="7" fill="#8A0EA3"/></g>
<g id="n-ep2"><circle cx="622" cy="441" r="7" fill="#8A0EA3"/></g>
<g id="n-ep3"><circle cx="624" cy="454" r="7" fill="#8A0EA3"/></g>
<g id="n-eg1"><circle class="g" cx="514" cy="454" r="7"/></g>
<g id="n-eg2"><circle class="g" cx="570" cy="454" r="7"/></g>
<g id="n-eg3"><circle class="g" cx="616" cy="463" r="7"/></g>
<g id="n-eg4"><circle class="g" cx="656" cy="475" r="7"/></g>
<g id="n-eg5"><circle class="g" cx="639" cy="485" r="7"/></g>
<g id="n-pr" transform="translate(652,463)"><use href="#hl" fill="#8A0EA3"/><use href="#hr" fill="#E0132C"/><use href="#ring"/></g>
<g id="n-r1"><circle cx="681" cy="482" r="7" fill="#E0132C"/></g>
<g id="n-r2"><circle cx="670" cy="493" r="7" fill="#E0132C"/></g>
<g id="n-r3"><circle cx="709" cy="487" r="7" fill="#E0132C"/></g>
<g id="n-r4"><circle cx="696" cy="532" r="7" fill="#E0132C"/></g>
<g id="n-eg6"><circle class="g" cx="810" cy="489" r="7"/></g>
<g id="n-eg7"><circle class="g" cx="755" cy="523" r="7"/></g>
<g id="n-eg8"><circle class="g" cx="828" cy="427" r="7"/></g>
<g id="n-eg9"><circle class="g" cx="856" cy="446" r="7"/></g>
<g id="n-eg10"><circle class="g" cx="890" cy="453" r="7"/></g>
<g id="n-eg11"><circle class="g" cx="939" cy="490" r="7"/></g>
<g id="n-eg12"><circle class="g" cx="974" cy="501" r="7"/></g>
<g id="n-eg13"><circle class="g" cx="985" cy="482" r="7"/></g>
<g id="n-eg14"><circle class="g" cx="902" cy="421" r="7"/></g>
<g id="n-eg15"><circle class="g" cx="971" cy="447" r="7"/></g>
<g id="n-eg16"><circle class="g" cx="961" cy="527" r="7"/></g>

<g id="n-c1"><circle class="g" cx="189" cy="533" r="7"/></g>
<g id="n-c2"><circle class="g" cx="211" cy="539" r="7"/></g>
<g id="n-c3"><circle class="g" cx="193" cy="556" r="7"/></g>
<g id="n-c4"><circle class="g" cx="227" cy="581" r="7"/></g>
<g id="n-s1"><circle class="g" cx="265" cy="606" r="7"/></g>
<g id="n-s2"><circle class="g" cx="326" cy="617" r="7"/></g>
<g id="n-s3"><circle class="g" cx="372" cy="626" r="7"/></g>
<g id="n-s4"><circle class="g" cx="371" cy="645" r="7"/></g>
<g id="n-s5"><circle class="g" cx="454" cy="625" r="7"/></g>
<g id="n-sg1"><circle class="g" cx="522" cy="589" r="7"/></g>
<g id="n-sg2"><circle class="g" cx="533" cy="607" r="7"/></g>
<g id="n-sg3"><circle class="g" cx="524" cy="623" r="7"/></g>
<g id="n-sg4"><circle class="g" cx="622" cy="611" r="7"/></g>
<g id="n-sg5"><circle class="g" cx="561" cy="657" r="7"/></g>
<g id="n-gk2"><circle class="g" cx="723" cy="644" r="7"/></g>
<g id="n-mx4" transform="translate(599,568)"><use href="#s3" fill="#E89E12"/><use href="#s1" fill="#8A0EA3"/><use href="#s2" fill="#5DF296"/><use href="#ring"/></g>
<g id="n-cy1"><circle class="k" cx="586" cy="646" r="7" fill="#6CFAFA"/></g>
<g id="n-cy2"><circle class="k" cx="571" cy="671" r="7" fill="#6CFAFA"/></g>
<g id="n-cy3"><circle class="k" cx="588" cy="672" r="7" fill="#6CFAFA"/></g>

<g id="n-hb1"><circle class="k" cx="142" cy="576" r="7" fill="#A9C7F7"/></g>
<g id="n-hb2"><circle class="k" cx="128" cy="589" r="7" fill="#A9C7F7"/></g>
<g id="n-hb3"><circle class="k" cx="153" cy="589" r="7" fill="#A9C7F7"/></g>
<g id="n-hb4"><circle class="k" cx="129" cy="604" r="7" fill="#A9C7F7"/></g>
<g id="n-hh1" transform="translate(165,612)"><use href="#hl" fill="#2A12EE"/><use href="#hr" fill="#A9C7F7"/><use href="#ring"/></g>
<g id="n-hh2" transform="translate(146,618)"><use href="#hl" fill="#2A12EE"/><use href="#hr" fill="#A9C7F7"/><use href="#ring"/></g>
<g id="n-b1"><circle cx="138" cy="637" r="7" fill="#2A12EE"/></g>
<g id="n-b2"><circle cx="160" cy="636" r="7" fill="#2A12EE"/></g>
<g id="n-b3"><circle cx="173" cy="642" r="7" fill="#2A12EE"/></g>
<g id="n-b4"><circle cx="146" cy="652" r="7" fill="#2A12EE"/></g>
<g id="n-b5"><circle cx="163" cy="661" r="7" fill="#2A12EE"/></g>
<g id="n-cg"><circle class="g" cx="174" cy="704" r="7"/></g>

<g id="n-mx5" transform="translate(601,742)"><use href="#s3" fill="#F4C9C8"/><use href="#s1" fill="#8A0B33"/><use href="#s2" fill="#5DF296"/><use href="#ring"/></g>
<g id="n-or1"><circle class="k" cx="662" cy="747" r="7" fill="#E89E12"/></g>
<g id="n-lo" transform="translate(727,725)"><use href="#ht" fill="#A98AF4"/><use href="#hb" fill="#E89E12"/><use href="#ring"/></g>
<g id="n-pk3"><circle class="k" cx="601" cy="787" r="7" fill="#F4C9C8"/></g>
<g id="n-mp" transform="translate(605,802)"><use href="#hl" fill="#8A0B33"/><use href="#hr" fill="#F4C9C8"/><use href="#ring"/></g>
<g id="n-mx6" transform="translate(632,783)"><use href="#s3" fill="#E89E12"/><use href="#s1" fill="#8A0B33"/><use href="#s2" fill="#F4C9C8"/><use href="#ring"/></g>
<g id="n-mx7" transform="translate(648,777)"><use href="#s3" fill="#E89E12"/><use href="#s1" fill="#8A0B33"/><use href="#s2" fill="#F4C9C8"/><use href="#ring"/></g>
<g id="n-mx8" transform="translate(635,796)"><use href="#s3" fill="#E89E12"/><use href="#s1" fill="#8A0B33"/><use href="#s2" fill="#F4C9C8"/><use href="#ring"/></g>
<g id="n-or2"><circle class="k" cx="670" cy="782" r="7" fill="#E89E12"/></g>
<g id="n-or3"><circle class="k" cx="672" cy="796" r="7" fill="#E89E12"/></g>
<g id="n-or4"><circle class="k" cx="670" cy="810" r="7" fill="#E89E12"/></g>
<g id="n-ol" transform="translate(623,813)"><use href="#q3" fill="#E89E12"/><use href="#q1" fill="#C698F6"/><use href="#ring"/></g>
<g id="n-gg1"><circle class="g" cx="685" cy="822" r="7"/></g>
<g id="n-gg2"><circle class="g" cx="696" cy="814" r="7"/></g>
<g id="n-gg3"><circle class="g" cx="682" cy="853" r="7"/></g>
<g id="n-gg4"><circle class="g" cx="688" cy="886" r="7"/></g>
<g id="n-gg5"><circle class="g" cx="601" cy="878" r="7"/></g>
<g id="n-gg6"><circle class="g" cx="618" cy="886" r="7"/></g>
<g id="n-lv1"><circle class="k" cx="575" cy="881" r="7" fill="#C698F6"/></g>
<g id="n-lv2"><circle class="k" cx="562" cy="912" r="7" fill="#C698F6"/></g>
<g id="n-ly1"><circle class="k" cx="593" cy="890" r="7" fill="#F9F99B"/></g>
<g id="n-ly2"><circle class="k" cx="579" cy="912" r="7" fill="#F9F99B"/></g>
<g id="n-gb1"><circle class="g" cx="543" cy="947" r="7"/></g>
<g id="n-gb2"><circle class="g" cx="523" cy="958" r="7"/></g>
<g id="n-gb3"><circle class="g" cx="562" cy="956" r="7"/></g>

<g id="n-dp1"><circle class="k" cx="811" cy="759" r="7" fill="#7C0B6B"/></g>
<g id="n-dp2"><circle class="k" cx="827" cy="761" r="7" fill="#7C0B6B"/></g>
<g id="n-pu1"><circle class="k" cx="807" cy="775" r="7" fill="#9A53F6"/></g>
<g id="n-pu2"><circle class="k" cx="824" cy="780" r="7" fill="#9A53F6"/></g>
<g id="n-ll"><circle class="k" cx="814" cy="786" r="7" fill="#D1CCF4"/></g>
<g id="n-gr"><circle class="k" cx="797" cy="821" r="7" fill="#4E8719"/></g>
<g id="n-gg7"><circle class="g" cx="833" cy="882" r="7"/></g>
<g id="n-mp2" transform="translate(876,766)"><use href="#hl" fill="#F713F4"/><use href="#hr" fill="#7C0B6B"/><use href="#ring"/></g>
<g id="n-m1"><circle class="k" cx="953" cy="719" r="7" fill="#F713F4"/></g>
<g id="n-m2"><circle class="k" cx="947" cy="760" r="7" fill="#F713F4"/></g>
<g id="n-m3"><circle class="k" cx="969" cy="771" r="7" fill="#F713F4"/></g>
<g id="n-m4"><circle class="k" cx="939" cy="774" r="7" fill="#F713F4"/></g>
<g id="n-m5"><circle class="k" cx="960" cy="786" r="7" fill="#F713F4"/></g>
<g id="n-gm1"><circle class="g" cx="1024" cy="793" r="7"/></g>
<g id="n-gm2"><circle class="g" cx="1008" cy="820" r="7"/></g>

<g id="n-d1"><circle class="g" cx="487" cy="1074" r="7"/></g>
<g id="n-d2"><circle class="g" cx="481" cy="1094" r="7"/></g>
<g id="n-d3"><circle class="g" cx="507" cy="1091" r="7"/></g>
<g id="n-d4"><circle class="g" cx="518" cy="1094" r="7"/></g>
<g id="n-d5"><circle class="g" cx="536" cy="1099" r="7"/></g>
<g id="n-e1"><circle class="g" cx="590" cy="1073" r="7"/></g>
<g id="n-e2"><circle class="g" cx="607" cy="1088" r="7"/></g>
<g id="n-e3"><circle class="g" cx="583" cy="1099" r="7"/></g>
<g id="n-e4"><circle class="g" cx="560" cy="1110" r="7"/></g>
<g id="n-e5"><circle class="g" cx="577" cy="1124" r="7"/></g>
<g id="n-f1"><circle class="g" cx="650" cy="1073" r="7"/></g>
<g id="n-f2"><circle class="g" cx="632" cy="1081" r="7"/></g>
<g id="n-f3"><circle class="g" cx="657" cy="1092" r="7"/></g>
<g id="n-f4"><circle class="g" cx="639" cy="1099" r="7"/></g>
<g id="n-h1"><circle class="g" cx="697" cy="1073" r="7"/></g>
<g id="n-h2"><circle class="g" cx="682" cy="1092" r="7"/></g>
<g id="n-h3"><circle class="g" cx="703" cy="1096" r="7"/></g>
<g id="n-h4"><circle class="g" cx="687" cy="1114" r="7"/></g>
<g id="n-i1"><circle class="g" cx="741" cy="1074" r="7"/></g>
<g id="n-i2"><circle class="g" cx="734" cy="1097" r="7"/></g>
<g id="n-i3"><circle class="g" cx="727" cy="1120" r="7"/></g>
<g id="n-j1"><circle class="g" cx="766" cy="1073" r="7"/></g>
<g id="n-j2"><circle class="g" cx="773" cy="1087" r="7"/></g>
<g id="n-j3"><circle class="g" cx="779" cy="1100" r="7"/></g>
<g id="n-k1"><circle class="g" cx="805" cy="1073" r="7"/></g>
<g id="n-k2"><circle class="g" cx="825" cy="1084" r="7"/></g>
<g id="n-k3"><circle class="g" cx="851" cy="1073" r="7"/></g>
<g id="n-k4"><circle class="g" cx="871" cy="1083" r="7"/></g>
<g id="n-p1"><circle class="g" cx="482" cy="1148" r="7"/></g>
<g id="n-p2"><circle class="g" cx="488" cy="1170" r="7"/></g>
<g id="n-p3"><circle class="g" cx="512" cy="1148" r="7"/></g>
<g id="n-p4"><circle class="g" cx="518" cy="1170" r="7"/></g>
<g id="n-p5"><circle class="g" cx="543" cy="1148" r="7"/></g>
<g id="n-p6"><circle class="g" cx="548" cy="1170" r="7"/></g>
<g id="n-p7"><circle class="g" cx="593" cy="1149" r="7"/></g>
<g id="n-p8"><circle class="g" cx="574" cy="1160" r="7"/></g>
<g id="n-p9"><circle class="g" cx="638" cy="1149" r="7"/></g>
<g id="n-p10"><circle class="g" cx="618" cy="1160" r="7"/></g>
<g id="n-p11"><circle class="g" cx="683" cy="1149" r="7"/></g>
<g id="n-p12"><circle class="g" cx="663" cy="1160" r="7"/></g>
<g id="n-p13"><circle class="g" cx="707" cy="1149" r="7"/></g>
<g id="n-p14"><circle class="g" cx="718" cy="1168" r="7"/></g>
</g>

<g id="labels" class="lab">
<text x="571" y="105">Lipid</text><text x="571" y="140">metabolism</text>
<text x="891" y="137">Amino acid</text><text x="891" y="172">metabolism</text>
<text x="501" y="391">Energy</text><text x="501" y="425">metabolism</text>
<text x="109" y="526">Cell</text><text x="109" y="561">membrane</text>
<text x="396" y="568">Signal</text><text x="396" y="603">transduction</text>
<text x="510" y="773">Gene</text><text x="510" y="808">expression</text>
<text x="1041" y="685">Stress</text><text x="1041" y="720">response</text>
</g>

<g id="legend">
<rect x="10" y="722" width="53" height="677" fill="#000"/>
<rect x="13" y="724.5" width="47" height="17.5" fill="#5DF296"/>
<rect x="13" y="745.7" width="47" height="17.5" fill="#4FC5C7"/>
<rect x="13" y="766.8" width="47" height="17.5" fill="#D7F8CF"/>
<rect x="13" y="788.0" width="47" height="17.5" fill="#4A8DF1"/>
<rect x="13" y="809.2" width="47" height="17.5" fill="#F3CB93"/>
<rect x="13" y="830.4" width="47" height="17.5" fill="#7A0A9B"/>
<rect x="13" y="851.5" width="47" height="17.5" fill="#8A0EA3"/>
<rect x="13" y="872.7" width="47" height="17.5" fill="#C9C90E"/>
<rect x="13" y="893.9" width="47" height="17.5" fill="#F0C30E"/>
<rect x="13" y="915.0" width="47" height="17.5" fill="#CCFE14"/>
<rect x="13" y="936.2" width="47" height="17.5" fill="#F8F60E"/>
<rect x="13" y="957.4" width="47" height="17.5" fill="#F8F60E"/>
<rect x="13" y="978.5" width="47" height="17.5" fill="#4E8719"/>
<rect x="13" y="999.7" width="47" height="17.5" fill="#F6C8F3"/>
<rect x="13" y="1020.9" width="47" height="17.5" fill="#E0132C"/>
<rect x="13" y="1042.1" width="47" height="17.5" fill="#6CFAFA"/>
<rect x="13" y="1063.2" width="47" height="17.5" fill="#2A12EE"/>
<rect x="13" y="1084.4" width="47" height="17.5" fill="#F4C9C8"/>
<rect x="13" y="1105.6" width="47" height="17.5" fill="#8A0B33"/>
<rect x="13" y="1126.7" width="47" height="17.5" fill="#E89E12"/>
<rect x="13" y="1147.9" width="47" height="17.5" fill="#E89E12"/>
<rect x="13" y="1169.1" width="47" height="17.5" fill="#E89E12"/>
<rect x="13" y="1190.2" width="47" height="17.5" fill="#E89E12"/>
<rect x="13" y="1211.4" width="47" height="17.5" fill="#E89E12"/>
<rect x="13" y="1232.6" width="47" height="17.5" fill="#F9F99B"/>
<rect x="13" y="1253.8" width="47" height="17.5" fill="#C698F6"/>
<rect x="13" y="1274.9" width="47" height="17.5" fill="#7C0B6B"/>
<rect x="13" y="1296.1" width="47" height="17.5" fill="#9A53F6"/>
<rect x="13" y="1317.3" width="47" height="17.5" fill="#D1CCF4"/>
<rect x="13" y="1338.4" width="47" height="17.5" fill="#2F9713"/>
<rect x="13" y="1359.6" width="47" height="17.5" fill="#F713F4"/>
<rect x="13" y="1380.8" width="47" height="16" fill="#A9C7F7"/>
<g class="leg">
<text x="78" y="739.3">Lipid biosynthetic process</text>
<text x="78" y="760.5">Cellular lipid metabolic process</text>
<text x="78" y="781.6">Fatty acid metabolic process</text>
<text x="78" y="802.8">Single organism catabolic process</text>
<text x="78" y="824.0">Pentose phosphate shunt</text>
<text x="78" y="845.2">Monocarboxylic acid metabolic process</text>
<text x="78" y="866.3">Single-organism metabolic process</text>
<text x="78" y="887.5">gluconeogenesis</text>
<text x="78" y="908.7">One-carbon metabolic process</text>
<text x="78" y="929.8">Alpha-amino acid metabolic process</text>
<text x="78" y="951.0">Cellular amino acid biosynthetic process</text>
<text x="78" y="972.2">Cellular amino acid metabolic process</text>
<text x="78" y="993.3">Carboxylic acid metabolic process</text>
<text x="78" y="1014.5">Hexose biosynthetic process</text>
<text x="78" y="1035.7">Cellular respiration</text>
<text x="78" y="1056.9">Transport</text>
<text x="78" y="1078.0">Phospholipid biosynthetic process</text>
<text x="78" y="1099.2">Ribosome biogenesis</text>
<text x="78" y="1120.4">Cytoplasmic translation</text>
<text x="78" y="1141.5">Cellular macromolecule metabolic process</text>
<text x="78" y="1162.7">Nucleic acid metabolic process</text>
<text x="78" y="1183.9">Cellular protein metabolic process</text>
<text x="78" y="1205.0">Gene expression</text>
<text x="78" y="1226.2">Translation</text>
<text x="78" y="1247.4">RNA metabolic process</text>
<text x="78" y="1268.6">Nucleic acid metabolic process</text>
<text x="78" y="1289.7">Nucleotide biosynthetic process</text>
<text x="78" y="1310.9">Purine nucleotide biosynthetic process</text>
<text x="78" y="1332.1">Nucleotide metabolic process</text>
<text x="78" y="1353.2">Nucleoside phosphate metabolic process</text>
<text x="78" y="1374.4">Cellular response to oxidative stress</text>
<text x="73" y="1395.6">Hydrolase activity, acting on acid anhydrides,</text>
<text x="73" y="1416.5">acting on GTP, involved in cellular and</text>
<text x="73" y="1437">subcellular movement</text>
</g>
</g>
</svg>
